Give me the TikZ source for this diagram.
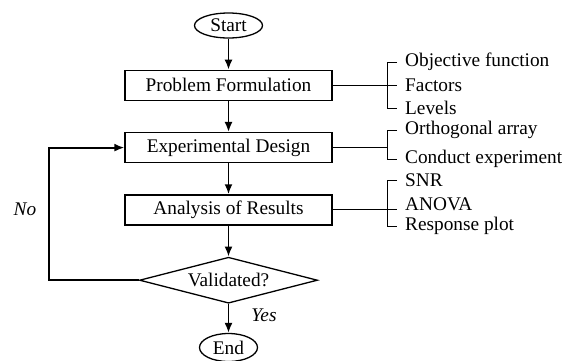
\documentclass[tikz,border=0pt]{standalone}
\usepackage{fontspec}
\setmainfont{Liberation Serif}
\usetikzlibrary{shapes.geometric, positioning, arrows.meta}
\tikzset{
x=1pt, y=-1pt, % pixel-like units, y runs downwards
>={Latex[length=10pt,width=8pt]}, % filled arrow heads
node distance=31pt, % gap between two steps of the flow
every node/.style={font=\fontsize{19.3}{22}\selectfont},
terminal/.style={draw, ellipse, line width=1.3pt, inner sep=0pt}, % start and end
block/.style={draw, line width=1.3pt, minimum width=207pt, minimum height=30pt}, % the steps
decision/.style={draw, line width=1.3pt, diamond, aspect=3.9, inner sep=0pt, minimum width=178pt, minimum height=46pt},
item/.style={anchor=west, inner xsep=8pt, inner ysep=0pt}, % texts right of the brackets
flow/.style={->, line width=1.8pt}, % arrows of the flow
brace/.style={line width=1pt}, % bracket lines
}

\begin{document}
\begin{tikzpicture}
        \useasboundingbox (0,0) rectangle (571,360);

        \node[terminal, minimum width=68pt, minimum height=25pt] (start) at (228.5,25.5) {Start};
        \node[block, below=of start] (pf) {Problem Formulation};
        \node[block, below=of pf] (ed) {Experimental Design};
        \node[block, below=of ed] (ar) {Analysis of Results};
        \node[decision, below=of ar] (val) {Validated?};
        \node[terminal, minimum width=58pt, minimum height=28pt, below=29pt of val] (end) {End};

        \node[item] (obj) at (397,62) {Objective function};
        \node[item] (fac) at (397,85) {Factors};
        \node[item] (lev) at (397,108) {Levels};
        \node[item] (orth) at (397,130) {Orthogonal array};
        \node[item] (cond) at (397,159) {Conduct experiment};
        \node[item] (snr) at (397,180) {SNR};
        \node[item] (anova) at (397,204) {ANOVA};
        \node[item] (resp) at (397,226) {Response plot};

        \node (no) at (25,209) {\textit{No}};
        \node (yes) at (264,315) {\textit{Yes}};
        \coordinate (back) at (49,0);

        \draw[flow] (start) -- (pf);
        \draw[flow] (pf) -- (ed);
        \draw[flow] (ed) -- (ar);
        \draw[flow] (ar) -- (val);
        \draw[flow] (val) -- (end);
        \draw[flow] (val.west) -| (back |- ed.west) -- (ed.west);

        \draw[brace] (obj.west) -- ++(-10,0) |- (lev.west);
        \draw[brace] (pf.east) -- (pf.east -| fac.west);
        \draw[brace] (orth.west) -- ++(-10,0) coordinate (edbr) |- (cond.west);
        \draw[brace] (ed.east) -- (ed.east -| edbr);
        \draw[brace] (snr.west) -- ++(-10,0) |- (resp.west);
        \draw[brace] (ar.east) -- (ar.east -| anova.west);
      \end{tikzpicture}
\end{document}
